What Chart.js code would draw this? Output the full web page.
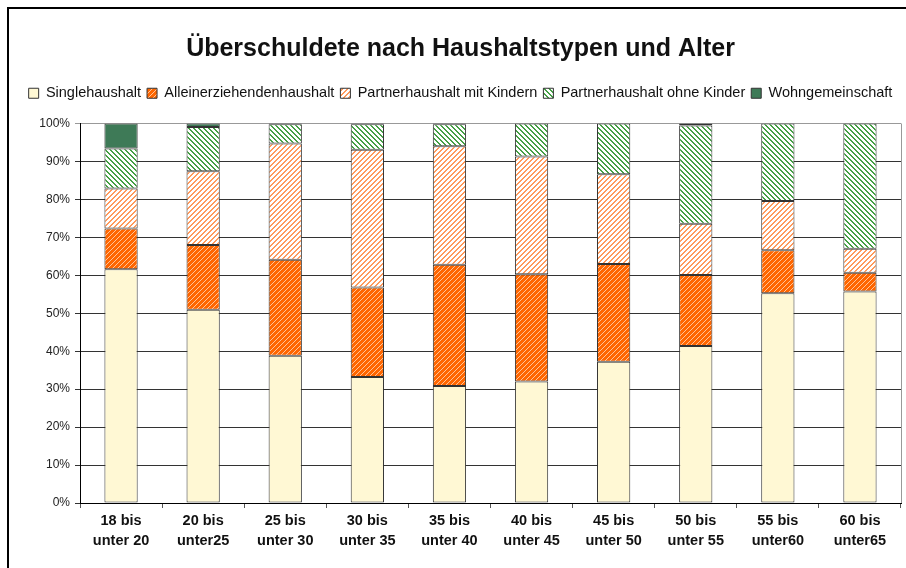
<!DOCTYPE html>
<html>
<head>
<meta charset="utf-8">
<script src="https://cdn.jsdelivr.net/npm/chart.js@4.4.1/dist/chart.umd.min.js"></script>
<style>
    html, body { margin: 0; padding: 0; background: #fff; overflow: hidden; }
    #wrap { position: absolute; left: 0; top: 0; width: 906px; height: 568px; }
    #frame { position: absolute; left: 7px; top: 7px; width: 1000px; height: 1000px; border: 2px solid #000; pointer-events: none; }
</style>
</head>
<body>
<div id="wrap"><canvas id="chart" width="906" height="568"></canvas></div>
<div id="frame"></div>
<script>
const categories = [
    ['18 bis', 'unter 20'], ['20 bis', 'unter25'], ['25 bis', 'unter 30'], ['30 bis', 'unter 35'],
    ['35 bis', 'unter 40'], ['40 bis', 'unter 45'], ['45 bis', 'unter 50'], ['50 bis', 'unter 55'],
    ['55 bis', 'unter60'], ['60 bis', 'unter65']
];
const singlehaushalt = [61.6, 50.9, 38.8, 33.2, 30.8, 32.0, 37.2, 41.4, 55.3, 55.7];
const alleinerziehend = [10.7, 17.1, 25.3, 23.6, 32.0, 28.3, 25.8, 18.7, 11.3, 5.0];
const partnerMitKindern = [10.6, 19.4, 30.6, 36.3, 31.2, 31.0, 23.6, 13.5, 13.0, 6.3];
const partnerOhneKinder = [10.5, 11.7, 5.1, 6.7, 5.8, 8.7, 13.4, 25.9, 20.4, 33.0];
const wohngemeinschaft = [6.6, 0.9, 0.2, 0.2, 0.2, 0, 0, 0.5, 0, 0];
const yTicks = [0, 10, 20, 30, 40, 50, 60, 70, 80, 90, 100];

// kleine Kachel mit diagonalen Streifen
function makePattern(bg, fg, dir, on) {
    const size = 5;
    const c = document.createElement('canvas');
    c.width = size; c.height = size;
    const g = c.getContext('2d');
    g.fillStyle = bg;
    g.fillRect(0, 0, size, size);
    g.fillStyle = fg;
    for (let y = 0; y < size; y++) {
        for (let x = 0; x < size; x++) {
            const k = dir === 'up' ? (x + y) % size : ((x - y) % size + size) % size;
            if (k < on) g.fillRect(x, y, 1, 1);
        }
    }
    return g.createPattern(c, 'repeat');
}

const orangeStripes = makePattern('#FF6600', '#FFC49A', 'up', 1);
const lightOrangeStripes = makePattern('#FFFFFF', '#FF9A5C', 'up', 2);
const greenStripes = makePattern('#FFFFFF', '#45A045', 'down', 2);

const fontFamily = "'Liberation Sans', Arial, sans-serif";

// mehr Abstand unter der Legende
const legendSpace = {
    id: 'legendSpace',
    beforeInit(chart) {
        const fit = chart.legend.fit;
        chart.legend.fit = function () {
            fit.bind(chart.legend)();
            this.height += 13;
        };
    }
};

// rechter Rand der Zeichenfläche (grau)
const plotBorder = {
    id: 'plotBorder',
    afterDraw(chart) {
        const a = chart.chartArea;
        const ctx = chart.ctx;
        ctx.save();
        ctx.strokeStyle = '#999';
        ctx.lineWidth = 1;
        ctx.beginPath();
        ctx.moveTo(Math.round(a.right) + 0.5, a.top);
        ctx.lineTo(Math.round(a.right) + 0.5, a.bottom);
        ctx.stroke();
        ctx.restore();
    }
};

const ctx = document.getElementById('chart').getContext('2d');
new Chart(ctx, {
    type: 'bar',
    data: {
        labels: categories,
        datasets: [
            { label: 'Singlehaushalt', data: singlehaushalt, backgroundColor: '#FFF8D4' },
            { label: 'Alleinerziehendenhaushalt', data: alleinerziehend, backgroundColor: orangeStripes },
            { label: 'Partnerhaushalt mit Kindern', data: partnerMitKindern, backgroundColor: lightOrangeStripes },
            { label: 'Partnerhaushalt ohne Kinder', data: partnerOhneKinder, backgroundColor: greenStripes },
            { label: 'Wohngemeinschaft', data: wohngemeinschaft, backgroundColor: '#3E7A57' }
        ].map(ds => Object.assign(ds, {
            borderColor: '#333',
            borderWidth: 1,
            borderSkipped: false,
            categoryPercentage: 1,
            barPercentage: 0.405
        }))
    },
    options: {
        responsive: false,
        animation: false,
        layout: { padding: { left: 20, right: 5, top: 0, bottom: 0 } },
        plugins: {
            title: {
                display: true,
                text: 'Überschuldete nach Haushaltstypen und Alter',
                color: '#111',
                font: { family: fontFamily, size: 25, weight: 'bold', lineHeight: 1.2 },
                padding: { top: 34, bottom: 16 }
            },
            legend: {
                display: true,
                position: 'top',
                labels: {
                    color: '#111',
                    font: { family: fontFamily, size: 14.5 },
                    boxWidth: 10,
                    boxHeight: 10,
                    padding: 6
                }
            },
            tooltip: { enabled: false }
        },
        scales: {
            x: {
                stacked: true,
                grid: {
                    display: true,
                    offset: true,
                    drawOnChartArea: false,
                    drawTicks: true,
                    tickLength: 5,
                    color: '#555'
                },
                border: { display: true, color: '#000', width: 1 },
                ticks: {
                    color: '#111',
                    padding: 3,
                    maxRotation: 0,
                    autoSkip: false,
                    font: { family: fontFamily, size: 14.5, weight: 'bold', lineHeight: 1.4 }
                },
                afterFit: (scale) => { scale.height = 65; }
            },
            y: {
                stacked: true,
                min: 0,
                max: 100,
                afterBuildTicks: (scale) => { scale.ticks = yTicks.map(v => ({ value: v })); },
                grid: {
                    color: (c) => c.tick && c.tick.value === 100 ? '#999' : '#333',
                    lineWidth: 1,
                    tickLength: 5
                },
                border: { display: true, color: '#000', width: 1 },
                ticks: {
                    color: '#222',
                    padding: 5,
                    font: { family: fontFamily, size: 12 },
                    callback: (v) => v + '%'
                },
                afterFit: (scale) => { scale.width = 60; }
            }
        }
    },
    plugins: [legendSpace, plotBorder]
});
</script>
</body>
</html>
